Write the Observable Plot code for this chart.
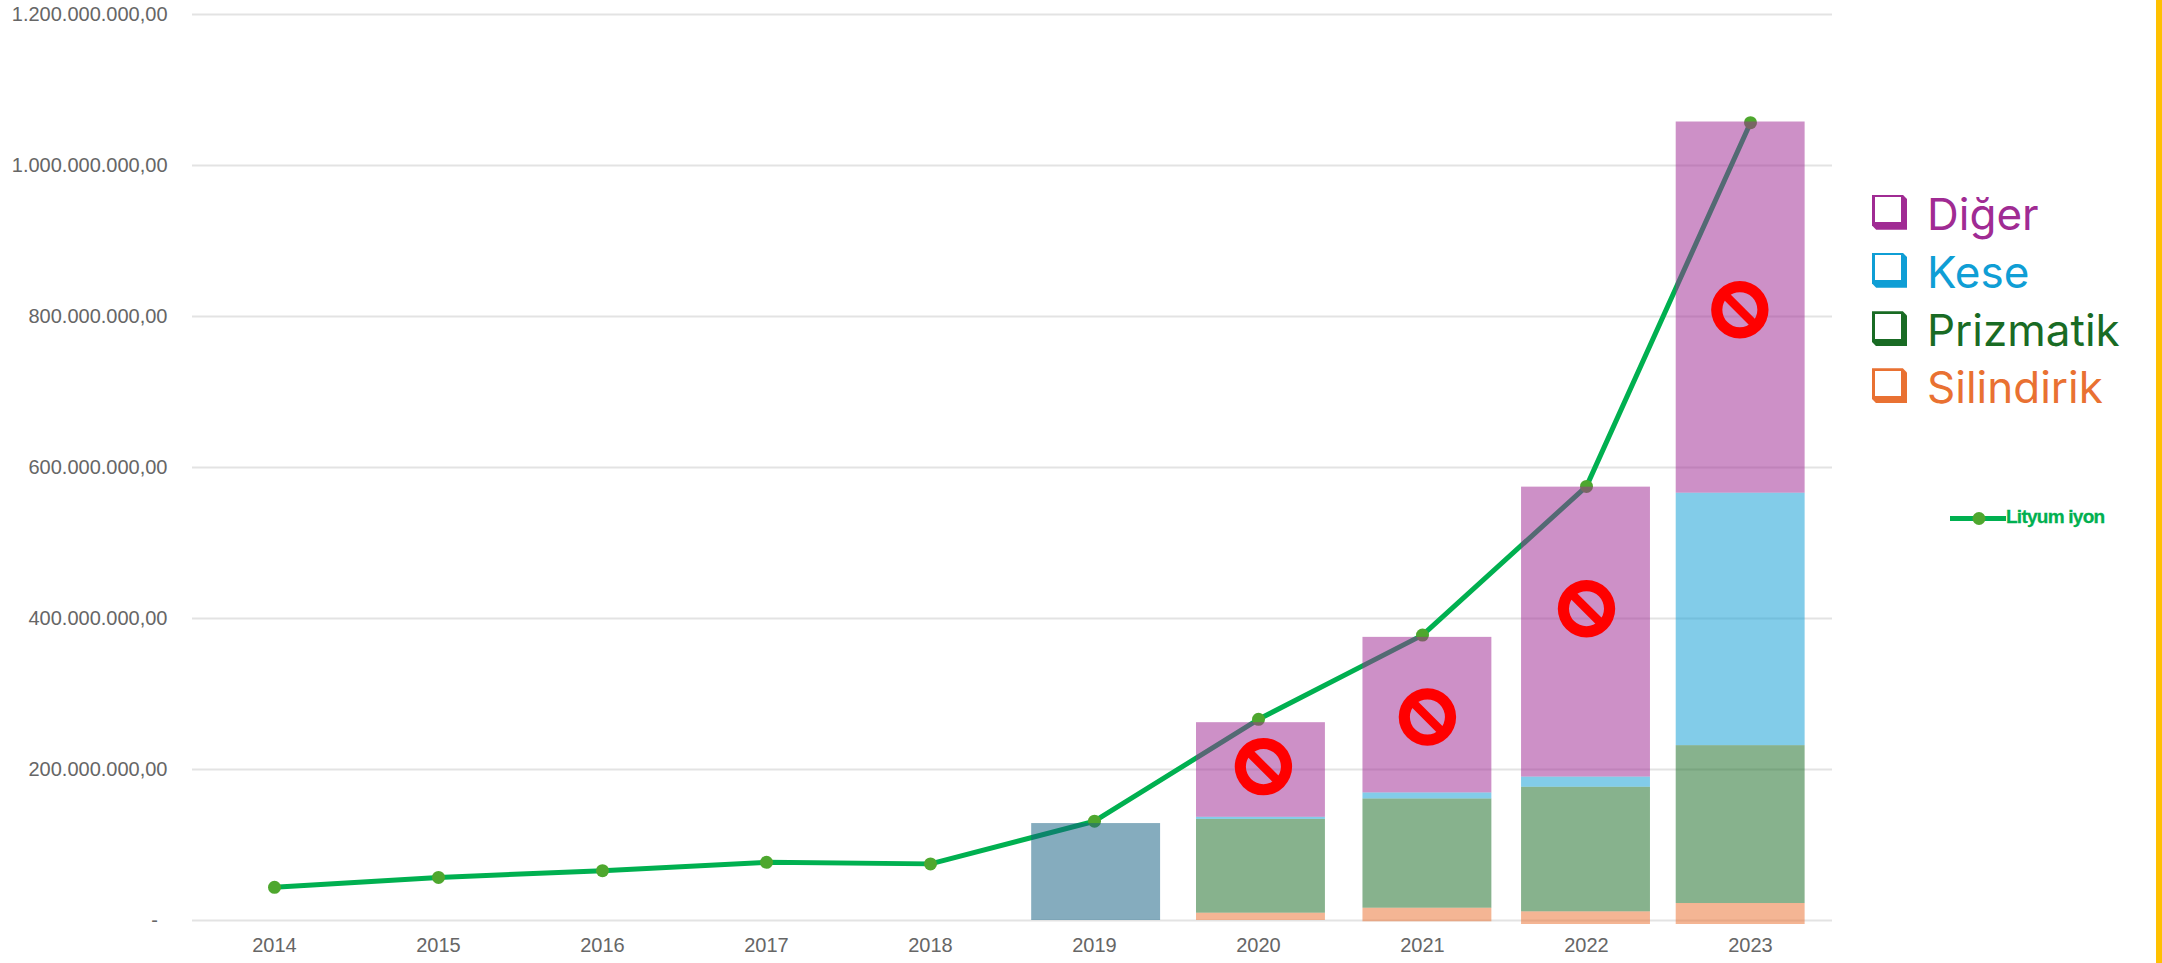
<!DOCTYPE html>
<html><head><meta charset="utf-8">
<script src="https://cdn.jsdelivr.net/npm/d3@7"></script>
<script src="https://cdn.jsdelivr.net/npm/@observablehq/plot@0.6"></script>
<style>
html,body{margin:0;padding:0;background:#fff;overflow:hidden}
#wrap{position:relative;width:2162px;height:963px}
#edge{position:absolute;left:2156px;top:0;width:6px;height:963px;background:#FFC000}
.leg{position:absolute;font-family:Inter,sans-serif;font-size:44px;line-height:50px;white-space:nowrap}
.sw{position:absolute;width:35px;height:35px;clip-path:polygon(0 0,88% 0,100% 12%,100% 100%,12% 100%,0 88%)}
.sw i{position:absolute;left:2.5px;top:2.5px;width:26px;height:25px;background:#fff;display:block}
#lineLeg{position:absolute;left:2006px;top:506px;font:bold 19px "Liberation Sans",sans-serif;color:#00B050;white-space:nowrap;letter-spacing:-.75px;-webkit-text-stroke:.3px #00B050}
</style></head><body>
<div id="wrap"><div id="chart"></div><div id="edge"></div></div>
<script>
const years = [2014,2015,2016,2017,2018,2019,2020,2021,2022,2023];
const lityumIyon = [44e6,57e6,66e6,77e6,75e6,131.5e6,266.5e6,378e6,575e6,1056.7e6];
const yTicks = [0,200e6,400e6,600e6,800e6,1000e6,1200e6];

// Overlaid bars, as they sit on the picture (read in year units)
const barYears = [2019.01,2020.015,2021.03,2021.997,2022.94];
const barBase  = [0,0,-1.7e6,-5.3e6,-5.3e6];
const silindirik = [0,9.7e6,18e6,16.8e6,27.8e6];
const prizmatik  = [0,124.3e6,144.7e6,165e6,209.1e6];
const kese       = [0,2.7e6,8e6,13.5e6,334.4e6];
const diger      = [0,125.3e6,206e6,384e6,491.6e6];
const toplam2019 = 128.4e6;

const iconYears  = [2020.03,2021.03,2022.0,2022.935];
const iconValues = [203.8e6,269.6e6,413e6,809e6];

const seriesNames = ["Diğer","Kese","Prizmatik","Silindirik"];
const seriesColors = ["#A02B93","#0F9ED5","#196B24","#E97132"];
const legendBaselines = [229.3,287.3,345.7,402.7];

const lineData = years.map((y,i)=>({year:y,value:lityumIyon[i]}));
const stackOrder = [["Silindirik",silindirik],["Prizmatik",prizmatik],["Kese",kese],["Diğer",diger]];
const segments = [];
barYears.forEach((y,i)=>{
  let c = barBase[i];
  if (i===0) segments.push({year:y,lo:0,hi:toplam2019,color:"#156082"});
  for (const [name,arr] of stackOrder){
    if (!arr[i]) continue;
    segments.push({year:y,lo:c,hi:c+arr[i],color:seriesColors[seriesNames.indexOf(name)]});
    c += arr[i];
  }
});
const halfBar = 0.393;

const noEntry = {draw(ctx,size){
  const r = Math.sqrt(size/Math.PI);
  const ri = 0.61*r;
  ctx.moveTo(r,0);
  ctx.arc(0,0,r,0,2*Math.PI);
  ctx.closePath();
  ctx.moveTo(ri,0);
  ctx.arc(0,0,ri,0,2*Math.PI,true);
  ctx.closePath();
  const d = 0.75*r*Math.SQRT1_2, t = 0.15*r*Math.SQRT1_2;
  ctx.moveTo(-d+t,-d-t);
  ctx.lineTo(d+t,d-t);
  ctx.lineTo(d-t,d+t);
  ctx.lineTo(-d-t,-d+t);
  ctx.closePath();
}};

const fmt = d => d===0 ? "-\u00a0\u2009" : d3.format(",.2f")(d).replace(/,/g,"#").replace(".",",").replace(/#/g,".");

const chart = Plot.plot({
  width:2162,height:963,
  marginTop:14,marginBottom:43,marginLeft:192,marginRight:330,
  style:{fontFamily:"'Liberation Sans',sans-serif",background:"#fff"},
  x:{domain:[2013.5,2023.5],label:null},
  y:{domain:[0,1.2e9],label:null},
  marks:[
    Plot.ruleY(yTicks,{stroke:"#E3E3E3",strokeWidth:2}),
    Plot.axisY({ticks:yTicks,tickSize:0,tickPadding:25,tickFormat:fmt,fontSize:20,label:null,fill:"#666"}),
    Plot.axisX({ticks:years,tickSize:0,tickPadding:17,tickFormat:d=>String(d),fontSize:20,fill:"#666",label:null}),
    Plot.line(lineData,{x:"year",y:"value",stroke:"#00B050",strokeWidth:5,strokeLinejoin:"round"}),
    Plot.dot(lineData,{x:"year",y:"value",r:6.5,fill:"#4EA72E"}),
    Plot.rect(segments,{x1:d=>d.year-halfBar,x2:d=>d.year+halfBar,y1:"lo",y2:"hi",fill:"color",fillOpacity:0.52}),
    Plot.dot(iconYears.map((y,i)=>({year:y,value:iconValues[i]})),{x:"year",y:"value",r:28.7,symbol:noEntry,fill:"#FF0000",stroke:"none"})
  ]
});
document.getElementById("chart").appendChild(chart);

const wrap = document.getElementById("wrap");
seriesNames.forEach((n,i)=>{
  const b = legendBaselines[i];
  const sw = document.createElement("div");
  sw.className="sw";
  sw.style.left="1872px"; sw.style.top=(b-34.5)+"px"; sw.style.background=seriesColors[i];
  sw.appendChild(document.createElement("i"));
  wrap.appendChild(sw);
  const t = document.createElement("div");
  t.className="leg"; t.textContent=n;
  t.style.left="1927px"; t.style.top=(b-40.5)+"px"; t.style.color=seriesColors[i];
  wrap.appendChild(t);
});
// line legend key, drawn by Plot
const key = Plot.plot({
  width:56,height:16,margin:0,axis:null,
  x:{domain:[0,1],range:[5.5,51.5]},y:{domain:[0,1],range:[15,1]},
  marks:[
    Plot.ruleY([0.5],{stroke:"#00B050",strokeWidth:5,strokeLinecap:"round"}),
    Plot.dot([0.5],{x:d=>d,y:d=>d,r:6.5,fill:"#4EA72E"})
  ]
});
key.style.position="absolute";key.style.left="1950px";key.style.top="510px";key.style.background="transparent";
wrap.appendChild(key);
const ll=document.createElement("div");ll.id="lineLeg";ll.textContent="Lityum iyon";wrap.appendChild(ll);
</script>
</body></html>
